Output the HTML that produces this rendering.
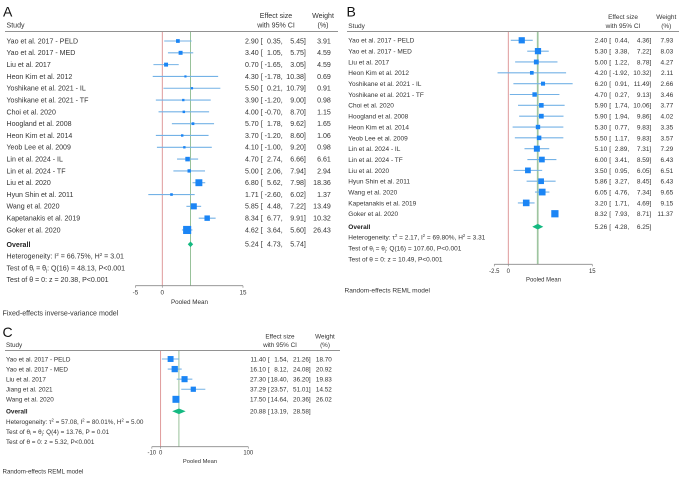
<!DOCTYPE html>
<html lang="en">
<head>
<meta charset="utf-8">
<title>Forest plots of pooled mean</title>
<style>
html,body{margin:0;padding:0;background:#fff;width:684px;height:477px;overflow:hidden}
svg{display:block;filter:blur(0.3px)}
text{font-family:"Liberation Sans",Arial,sans-serif;fill:#333}
.letter{font-size:14px;fill:#111}
.b{font-weight:bold;fill:#222}
</style>
</head>
<body>
<svg id="chart" xmlns="http://www.w3.org/2000/svg" width="684" height="477" viewBox="0 0 684 477">
  <rect width="684" height="477" fill="#fff"/>

  <g id="panel-a" font-size="7.05">
    <text class="letter" x="3" y="16.7">A</text>
    <text x="6.5" y="27.5">Study</text>
    <text x="276" y="18" text-anchor="middle">Effect size</text>
    <text x="276" y="27.5" text-anchor="middle">with 95% CI</text>
    <text x="323" y="18" text-anchor="middle">Weight</text>
    <text x="323" y="27.5" text-anchor="middle">(%)</text>
    <rect x="5" y="31.2" width="333" height="0.8" fill="#777"/>
    <text class="b" x="6.5" y="246.8">Overall</text>
    <text x="6.5" y="258.5">Heterogeneity: I<tspan dy="-2.5" font-size="4.5">2</tspan><tspan dy="2.5"> = 66.75%, H</tspan><tspan dy="-2.5" font-size="4.5">2</tspan><tspan dy="2.5"> = 3.01</tspan></text>
    <text x="6.5" y="270.3">Test of θ<tspan dy="1.2" font-size="4.5">i</tspan><tspan dy="-1.2"> = θ</tspan><tspan dy="1.2" font-size="4.5">j</tspan><tspan dy="-1.2">: Q(16) = 48.13, P&lt;0.001</tspan></text>
    <text x="6.5" y="282">Test of θ = 0: z = 20.38, P&lt;0.001</text>
    <text x="189.5" y="304" font-size="6.3" text-anchor="middle">Pooled Mean</text>
    <text x="2.5" y="315.5" font-size="7.1">Fixed-effects inverse-variance model</text>
  </g>

  <g id="panel-b" font-size="6.5">
    <text class="letter" x="346.5" y="16.7">B</text>
    <text x="348.3" y="28">Study</text>
    <text x="623" y="19" text-anchor="middle">Effect size</text>
    <text x="623" y="28" text-anchor="middle">with 95% CI</text>
    <text x="666.3" y="19" text-anchor="middle">Weight</text>
    <text x="666.3" y="28" text-anchor="middle">(%)</text>
    <rect x="347" y="31.2" width="332" height="0.8" fill="#777"/>
    <text class="b" x="348.3" y="229">Overall</text>
    <text x="348.3" y="239.6">Heterogeneity: τ<tspan dy="-2.5" font-size="4.2">2</tspan><tspan dy="2.5"> = 2.17, I</tspan><tspan dy="-2.5" font-size="4.2">2</tspan><tspan dy="2.5"> = 69.80%, H</tspan><tspan dy="-2.5" font-size="4.2">2</tspan><tspan dy="2.5"> = 3.31</tspan></text>
    <text x="348.3" y="250.6">Test of θ<tspan dy="1.2" font-size="4.2">i</tspan><tspan dy="-1.2"> = θ</tspan><tspan dy="1.2" font-size="4.2">j</tspan><tspan dy="-1.2">: Q(16) = 107.60, P&lt;0.001</tspan></text>
    <text x="348.3" y="261.6">Test of θ = 0: z = 10.49, P&lt;0.001</text>
    <text x="543.5" y="281.5" font-size="5.95" text-anchor="middle">Pooled Mean</text>
    <text x="344.5" y="292.5" font-size="6.55">Random-effects REML model</text>
  </g>

  <g id="panel-c" font-size="6.35">
    <text class="letter" x="2.5" y="337">C</text>
    <text x="6" y="347.2">Study</text>
    <text x="280" y="338.5" text-anchor="middle">Effect size</text>
    <text x="280" y="347.2" text-anchor="middle">with 95% CI</text>
    <text x="325" y="338.5" text-anchor="middle">Weight</text>
    <text x="325" y="347.2" text-anchor="middle">(%)</text>
    <rect x="5" y="350" width="335" height="0.8" fill="#777"/>
    <text class="b" x="6" y="413.6">Overall</text>
    <text x="6" y="424">Heterogeneity: τ<tspan dy="-2.5" font-size="4.2">2</tspan><tspan dy="2.5"> = 57.08, I</tspan><tspan dy="-2.5" font-size="4.2">2</tspan><tspan dy="2.5"> = 80.01%, H</tspan><tspan dy="-2.5" font-size="4.2">2</tspan><tspan dy="2.5"> = 5.00</tspan></text>
    <text x="6" y="434">Test of θ<tspan dy="1.2" font-size="4.2">i</tspan><tspan dy="-1.2"> = θ</tspan><tspan dy="1.2" font-size="4.2">j</tspan><tspan dy="-1.2">: Q(4) = 13.76, P = 0.01</tspan></text>
    <text x="6" y="444">Test of θ = 0: z = 5.32, P&lt;0.001</text>
    <text x="200" y="463" font-size="5.8" text-anchor="middle">Pooled Mean</text>
    <text x="2.5" y="473.5" font-size="6.2">Random-effects REML model</text>
  </g>
</svg>

<script>
// ---- Panel A data ----
const studiesA = ["Yao et al. 2017 - PELD","Yao et al. 2017 - MED","Liu et al. 2017","Heon Kim et al. 2012","Yoshikane et al. 2021 - IL","Yoshikane et al. 2021 - TF","Choi et al. 2020","Hoogland et al. 2008","Heon Kim et al. 2014","Yeob Lee et al. 2009","Lin et al. 2024 - IL","Lin et al. 2024 - TF","Liu et al. 2020","Hyun Shin et al. 2011","Wang et al. 2020","Kapetanakis et al. 2019","Goker et al. 2020"];
const effectA = [2.90,3.40,0.70,4.30,5.50,3.90,4.00,5.70,3.70,4.10,4.70,5.00,6.80,1.71,5.85,8.34,4.62];
const lowerA = [0.35,1.05,-1.65,-1.78,0.21,-1.20,-0.70,1.78,-1.20,-1.00,2.74,2.06,5.62,-2.60,4.48,6.77,3.64];
const upperA = [5.45,5.75,3.05,10.38,10.79,9.00,8.70,9.62,8.60,9.20,6.66,7.94,7.98,6.02,7.22,9.91,5.60];
const weightA = [3.91,4.59,4.59,0.69,0.91,0.98,1.15,1.65,1.06,0.98,6.61,2.94,18.36,1.37,13.49,10.32,26.43];
const overallA = [5.24,4.73,5.74];
const ticksA = [-5,0,15];

// ---- Panel B data ----
const studiesB = ["Yao et al. 2017 - PELD","Yao et al. 2017 - MED","Liu et al. 2017","Heon Kim et al. 2012","Yoshikane et al. 2021 - IL","Yoshikane et al. 2021 - TF","Choi et al. 2020","Hoogland et al. 2008","Heon Kim et al. 2014","Yeob Lee et al. 2009","Lin et al. 2024 - IL","Lin et al. 2024 - TF","Liu et al. 2020","Hyun Shin et al. 2011","Wang et al. 2020","Kapetanakis et al. 2019","Goker et al. 2020"];
const effectB = [2.40,5.30,5.00,4.20,6.20,4.70,5.90,5.90,5.30,5.50,5.10,6.00,3.50,5.86,6.05,3.20,8.32];
const lowerB = [0.44,3.38,1.22,-1.92,0.91,0.27,1.74,1.94,0.77,1.17,2.89,3.41,0.95,3.27,4.76,1.71,7.93];
const upperB = [4.36,7.22,8.78,10.32,11.49,9.13,10.06,9.86,9.83,9.83,7.31,8.59,6.05,8.45,7.34,4.69,8.71];
const weightB = [7.93,8.03,4.27,2.11,2.66,3.46,3.77,4.02,3.35,3.57,7.29,6.43,6.51,6.43,9.65,9.15,11.37];
const overallB = [5.26,4.28,6.25];
const ticksB = [-2.5,0,15];

// ---- Panel C data ----
const studiesC = ["Yao et al. 2017 - PELD","Yao et al. 2017 - MED","Liu et al. 2017","Jiang et al. 2021","Wang et al. 2020"];
const effectC = [11.40,16.10,27.30,37.29,17.50];
const lowerC = [1.54,8.12,18.40,23.57,14.64];
const upperC = [21.26,24.08,36.20,51.01,20.36];
const weightC = [18.70,20.92,19.83,14.52,26.02];
const overallC = [20.88,13.19,28.58];
const ticksC = [-10,0,100];

const SVGNS = 'http://www.w3.org/2000/svg';

function makeScale(d0, d1, r0, r1) {
  return function (v) { return r0 + (v - d0) * (r1 - r0) / (d1 - d0); };
}

function addText(parent, name, content, x, y, anchor, size) {
  const el = document.createElementNS(SVGNS, 'text');
  
  
  el.setAttribute('x', x);
  el.setAttribute('y', y);
  if (anchor) el.setAttribute('text-anchor', anchor);
  if (size) el.setAttribute('font-size', size);
  el.textContent = content;
  parent.appendChild(el);
  return el;
}

function addLine(parent, name, x1, y1, x2, y2, color, width) {
  const el = document.createElementNS(SVGNS, 'line');
  
  
  el.setAttribute('x1', x1);
  el.setAttribute('y1', y1);
  el.setAttribute('x2', x2);
  el.setAttribute('y2', y2);
  el.setAttribute('stroke', color);
  el.setAttribute('stroke-width', width);
  parent.appendChild(el);
  return el;
}

function drawPanel(groupId, studies, effect, lower, upper, weight, overall, ticks, layout) {
  const g = document.getElementById(groupId);
  const x = makeScale(layout.d0, layout.d1, layout.r0, layout.r1);
  const rowY = function (i) { return layout.y0 + i * layout.step; };

  // reference lines
  addLine(g, 'null-effect-line', x(0), layout.top, x(0), layout.axisY, '#dc8f90', 0.9);
  if (layout.paleRef) {
    addLine(g, 'pooled-mean-band', x(overall[0]), layout.top, x(overall[0]), layout.axisY, '#c6dcc6', 2);
  }
  addLine(g, 'pooled-mean-line', x(overall[0]), layout.top, x(overall[0]), layout.axisY, '#8dbb8f', 0.9);

  // x axis
  addLine(g, 'x-axis-line', x(ticks[0]), layout.axisY, x(ticks[ticks.length - 1]), layout.axisY, '#8a8a8a', 0.8);
  ticks.forEach(function (t) {
    addLine(g, 'x-axis-tick', x(t), layout.axisY, x(t), layout.axisY + 2, '#8a8a8a', 0.7);
    addText(g, 'x-axis-tick-label', String(t), x(t), layout.tickY, 'middle', layout.tickSize);
  });

  // study rows
  studies.forEach(function (name, i) {
    const y = rowY(i);
    addText(g, 'study-label', name, layout.labelX, y + 2.4);
    addLine(g, 'ci-line', x(lower[i]), y, x(upper[i]), y, '#74b2e6', 1.1);
    const s = layout.boxA + Math.sqrt(weight[i]) * layout.boxK;
    const box = document.createElementNS(SVGNS, 'rect');
    
    
    box.setAttribute('x', x(effect[i]) - s / 2);
    box.setAttribute('y', y - s / 2);
    box.setAttribute('width', s);
    box.setAttribute('height', s);
    box.setAttribute('fill', '#1b85f5');
    g.appendChild(box);
    addText(g, 'effect-value', effect[i].toFixed(2), layout.effX, y + 2.4, 'end');
    addText(g, 'ci-open-bracket', '[', layout.brX, y + 2.4);
    addText(g, 'ci-lower-value', lower[i].toFixed(2) + ',', layout.lowX, y + 2.4, 'end');
    addText(g, 'ci-upper-value', upper[i].toFixed(2) + ']', layout.upX, y + 2.4, 'end');
    addText(g, 'weight-value', weight[i].toFixed(2), layout.wtX, y + 2.4, 'end');
  });

  // overall
  const oy = layout.overallY;
  const dia = document.createElementNS(SVGNS, 'polygon');
  
  
  dia.setAttribute('points',
    x(overall[1]) + ',' + oy + ' ' +
    x(overall[0]) + ',' + (oy - layout.diaH) + ' ' +
    x(overall[2]) + ',' + oy + ' ' +
    x(overall[0]) + ',' + (oy + layout.diaH));
  dia.setAttribute('fill', '#14b981');
  g.appendChild(dia);
  addText(g, 'overall-effect-value', overall[0].toFixed(2), layout.effX, oy + 2.4, 'end');
  addText(g, 'overall-open-bracket', '[', layout.brX, oy + 2.4);
  addText(g, 'overall-lower-value', overall[1].toFixed(2) + ',', layout.lowX, oy + 2.4, 'end');
  addText(g, 'overall-upper-value', overall[2].toFixed(2) + ']', layout.upX, oy + 2.4, 'end');
}

drawPanel('panel-a', studiesA, effectA, lowerA, upperA, weightA, overallA, ticksA, {
  d0: 0, d1: 15, r0: 162.3, r1: 243, y0: 41, step: 11.81, top: 32, axisY: 285.7, tickY: 294.3, tickSize: 6.3,
  labelX: 6.5, effX: 258.7, brX: 260.7, lowX: 282.7, upX: 305.9, wtX: 330.8, overallY: 244.3, diaH: 2.8, boxA: 1, boxK: 1.38
});

drawPanel('panel-b', studiesB, effectB, lowerB, upperB, weightB, overallB, ticksB, {
  d0: 0, d1: 15, r0: 508.3, r1: 592.3, y0: 40.3, step: 10.84, top: 32, axisY: 264.3, tickY: 273, tickSize: 5.95,
  labelX: 348.3, effX: 607.3, brX: 609.3, lowX: 629.2, upX: 651.3, wtX: 673.2, overallY: 226.7, diaH: 2.8, boxA: 1, boxK: 1.85, paleRef: true
});

drawPanel('panel-c', studiesC, effectC, lowerC, upperC, weightC, overallC, ticksC, {
  d0: 0, d1: 100, r0: 160.6, r1: 248.3, y0: 359, step: 10.08, top: 351, axisY: 446.7, tickY: 454.6, tickSize: 5.95,
  labelX: 6, effX: 265.9, brX: 268, lowX: 288.3, upX: 310.7, wtX: 331.8, overallY: 411.3, diaH: 2.8, boxA: 0, boxK: 1.37
});
</script>
</body>
</html>
